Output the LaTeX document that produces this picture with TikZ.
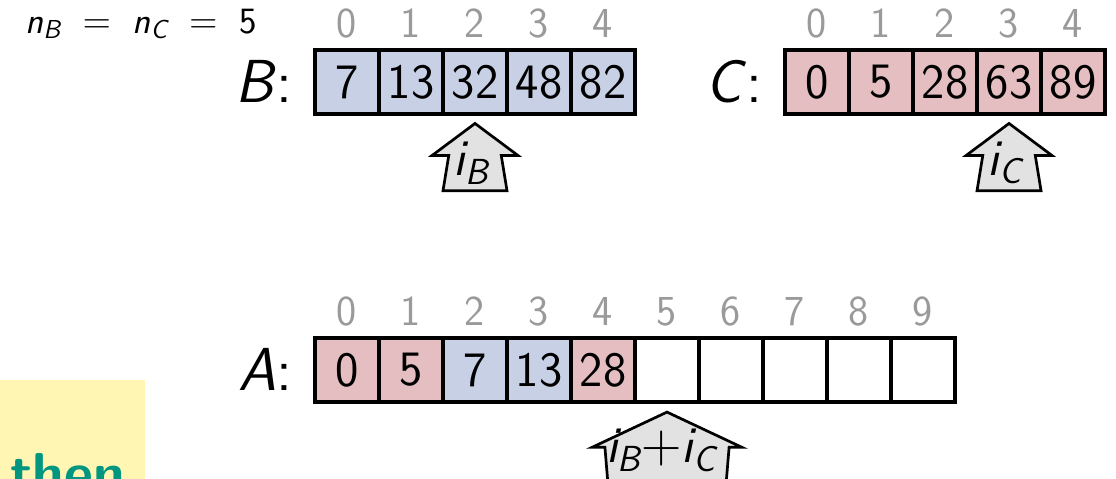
\documentclass[tikz,border=0pt]{standalone}
\usepackage{amsmath}
\usepackage{tikz}
\usetikzlibrary{calc}
\renewcommand{\familydefault}{\sfdefault}
\definecolor{arrblue}{HTML}{C8D0E6}
\definecolor{arrpink}{HTML}{E4BEC0}
\definecolor{idxgray}{HTML}{9A9A9A}
\definecolor{ptrgray}{HTML}{E2E2E2}
\definecolor{thenyellow}{HTML}{FFF6B4}
\definecolor{thenteal}{HTML}{00967F}

\begin{document}
\begin{tikzpicture}[
  x=1cm, y=1cm,
  cell/.style={draw, line width=1.6pt, minimum size=1cm, inner sep=0pt, font=\fontsize{22}{26}\selectfont},
  bcell/.style={cell, fill=arrblue},
  ccell/.style={cell, fill=arrpink},
  ecell/.style={cell, fill=white},
  idx/.style={anchor=base, inner sep=0pt, text=idxgray, font=\fontsize{19}{22}\selectfont},
  lbl/.style={anchor=base east, inner sep=0pt, font=\fontsize{27}{32}\selectfont},
  ptr/.style={draw, line width=1.2pt, fill=ptrgray, line join=miter},
  ptrlbl/.style={inner sep=0pt, font=\fontsize{23}{27}\selectfont}
]
\useasboundingbox (0,0) rectangle (17.4375,-7.484);
\clip (0,0) rectangle (17.4375,-7.484);

\node[anchor=base west, inner sep=0pt, font=\fontsize{16.5}{20}\selectfont] (sizes) at (0.39,-0.516) {$\textit{n}_{\textit{B}} \;=\; \textit{n}_{\textit{C}} \;=\; \text{5}$};

% array B
\node[lbl] (blbl) at (4.58,-1.594) {\textit{B}:};
\foreach \v [count=\i from 0] in {7,13,32,48,82} {
  \node[bcell] (b\i) at (5.422+\i,-1.281) {\v};
  \node[idx] (bi\i) at ($(b\i.north)+(0,0.16)$) {\i};
}

% array C
\node[lbl] (clbl) at (11.92,-1.594) {\textit{C}:};
\foreach \v [count=\i from 0] in {0,5,28,63,89} {
  \node[ccell] (c\i) at (12.766+\i,-1.281) {\v};
  \node[idx] (ci\i) at ($(c\i.north)+(0,0.16)$) {\i};
}

% array A
\node[lbl] (albl) at (4.58,-6.094) {\textit{A}:};
\foreach \v/\s [count=\i from 0] in {0/ccell,5/ccell,7/bcell,13/bcell,28/ccell,/ecell,/ecell,/ecell,/ecell,/ecell} {
  \node[\s] (a\i) at (5.422+\i,-5.781) {\v};
  \node[idx] (ai\i) at ($(a\i.north)+(0,0.16)$) {\i};
}

% pointers
\coordinate (pb) at ($(b2.south)+(0,-0.12)$);
\draw[ptr, shift={(pb)}] (0,0) -- (-0.67,-0.5) -- (-0.41,-0.5) -- (-0.5,-1.05) -- (0.5,-1.05) -- (0.41,-0.5) -- (0.67,-0.5) -- cycle;
\node[ptrlbl] (ib) at ($(pb)+(-0.06,-0.62)$) {$\textit{i}_{\textit{B}}$};

\coordinate (pc) at ($(c3.south)+(0,-0.12)$);
\draw[ptr, shift={(pc)}] (0,0) -- (-0.67,-0.5) -- (-0.41,-0.5) -- (-0.5,-1.05) -- (0.5,-1.05) -- (0.41,-0.5) -- (0.67,-0.5) -- cycle;
\node[ptrlbl] (ic) at ($(pc)+(-0.06,-0.62)$) {$\textit{i}_{\textit{C}}$};

\coordinate (pa) at ($(a5.south)+(0,-0.13)$);
\draw[ptr, shift={(pa)}] (0,0) -- (-1.17,-0.55) -- (-0.97,-0.55) -- (-0.9,-1.4) -- (0.9,-1.4) -- (0.97,-0.55) -- (1.17,-0.55) -- cycle;
\node[ptrlbl] (iab) at ($(pa)+(-0.09,-0.6)$) {$\textit{i}_{\textit{B}}{+}\textit{i}_{\textit{C}}$};

% overlay box
\node[fill=thenyellow, anchor=north west, minimum width=2.266cm, minimum height=2cm, inner sep=0pt] (thenbox) at (0,-5.9375) {};
\node[anchor=base west, inner sep=0pt, text=thenteal, font=\fontsize{25}{30}\selectfont\bfseries] (then) at (0.15,-7.69) {then};
\end{tikzpicture}
\end{document}
